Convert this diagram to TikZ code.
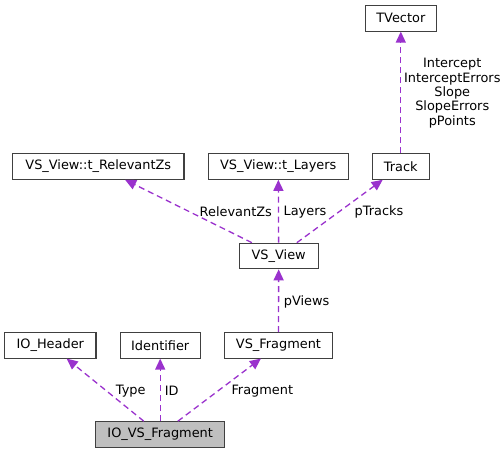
\documentclass[tikz,border=0pt]{standalone}
\usepackage{fontspec}
\setmainfont{DejaVu Sans}
\usepackage{tikz}
\usetikzlibrary{quotes}
\usetikzlibrary{arrows.meta}
\definecolor{edgecol}{HTML}{9A32CD}
\definecolor{boxcol}{HTML}{404040}

\begin{document}
\begin{tikzpicture}[x=1pt,y=-1pt,
    every node/.style={font=\fontsize{12.9}{14.4}\selectfont},
    cls/.style={draw=boxcol,line width=1.1pt,fill=white,minimum height=25.5pt,inner sep=0pt},
    rel/.style={draw=edgecol,line width=1.3pt,dash pattern=on 6pt off 4pt,-{Triangle[length=11pt,width=10pt,fill=edgecol]}},
    every edge quotes/.style={anchor=west,inner sep=0pt,text=black,pos=0.5}]

    \useasboundingbox (0,0) rectangle (504,453);

    \node[cls,minimum width=71pt]              (TVector) at (400.8, 18.3)   {TVector};
    \node[cls,minimum width=171.3pt]           (RelZs) at (98.3, 166.5)   {VS\_View::t\_RelevantZs};
    \node[cls,minimum width=140pt]             (Layers) at (278.3, 166.5) {VS\_View::t\_Layers};
    \node[cls,minimum width=56.7pt]            (Track) at (400.8, 166.5)    {Track};
    \node[cls,minimum width=79.3pt]            (View) at (278.7, 256)     {VS\_View};
    \node[cls,minimum width=91.3pt]            (Header) at (50.3, 345.3)  {IO\_Header};
    \node[cls,minimum width=80.3pt]            (Ident) at (160.2, 345.3)  {Identifier};
    \node[cls,minimum width=108.3pt]           (Frag) at (278.5, 345.3)   {VS\_Fragment};
    \node[cls,minimum width=129pt,fill=black!25] (IOFrag) at (160.2, 434.5) {IO\_VS\_Fragment};

    \draw (Track) edge[rel,"{Intercept\\InterceptErrors\\Slope\\SlopeErrors\\pPoints}" {align=center,xshift=2.6pt,yshift=-0.8pt}] (TVector);
    \draw (View) edge[rel,"RelevantZs" {xshift=10.6pt,yshift=-0.6pt}] (RelZs);
    \draw (View) edge[rel,"Layers" {xshift=4.5pt,yshift=-0.6pt}] (Layers);
    \draw (View) edge[rel,"pTracks" {xshift=14.2pt,yshift=-0.6pt}] (Track);
    \draw (Frag) edge[rel,"pViews" {xshift=4.6pt,yshift=-1pt}] (View);
    \draw (IOFrag) edge[rel,"Type" {xshift=10pt,yshift=-1.2pt}] (Header);
    \draw (IOFrag) edge[rel,"ID" {xshift=3.9pt,yshift=-1.2pt}] (Ident);
    \draw (IOFrag) edge[rel,"Fragment" {xshift=11.5pt,yshift=-1.2pt}] (Frag);
  \end{tikzpicture}
\end{document}
